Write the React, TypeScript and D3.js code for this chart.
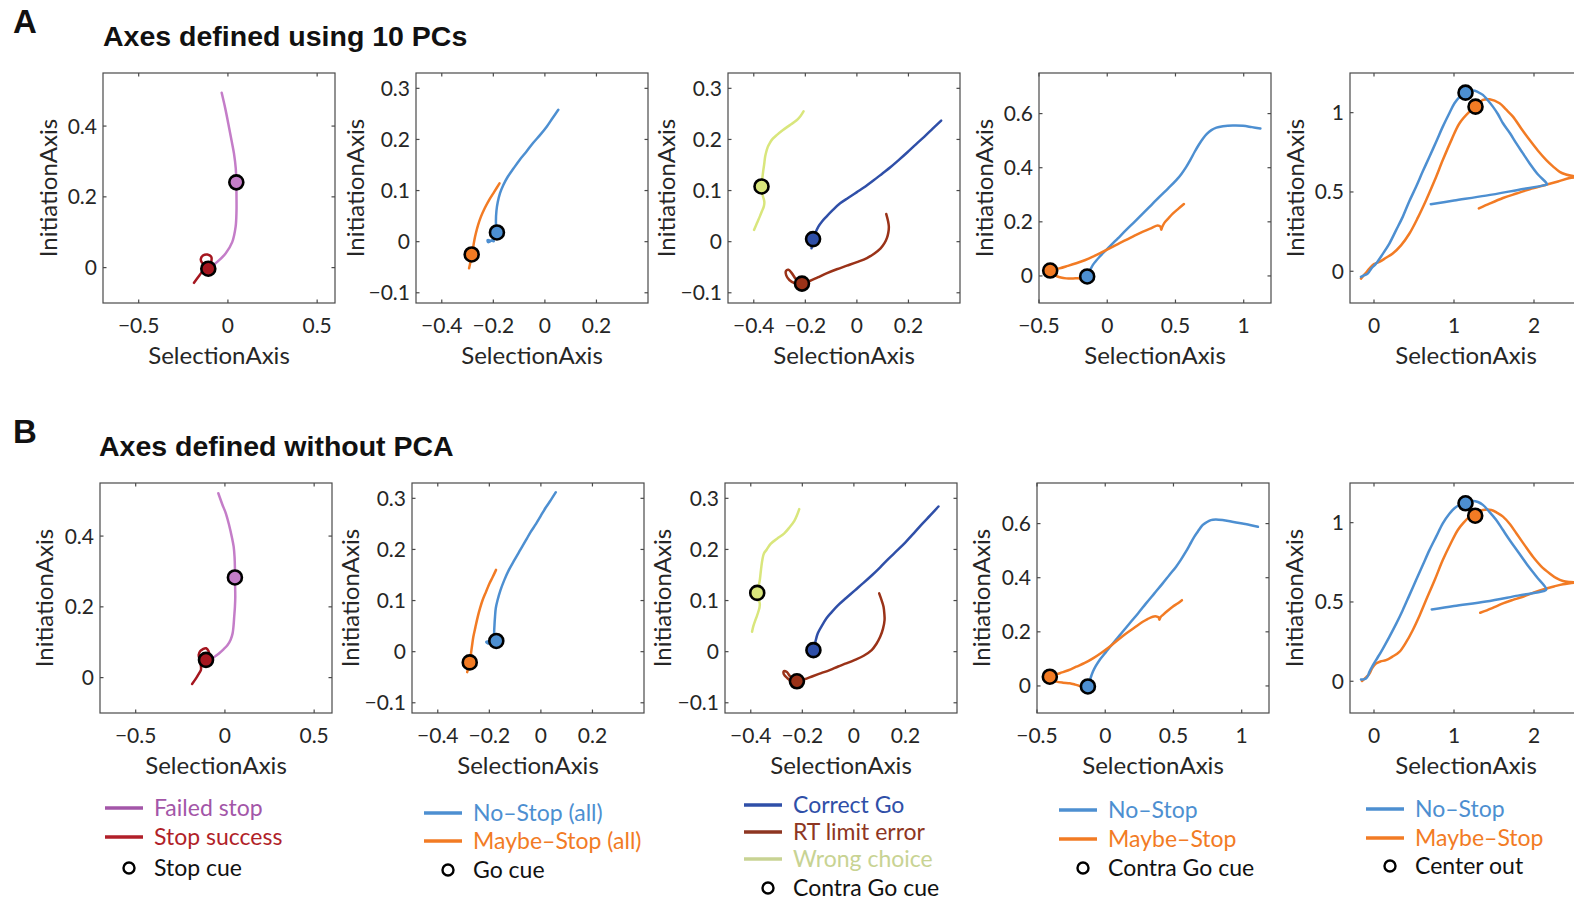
import React, { useEffect } from 'react';
import * as d3 from 'd3';

type P = [number, number];

// ---------- colours ----------
const cFailed = '#c47dc8';
const cFailedLeg = '#a356a8';
const cStopOk = '#a5161f';
const cStopOkLeg = '#b11f29';
const cNoStop = '#4d8fd1';
const cMaybe = '#f27b24';
const cCorrect = '#2f4fa8';
const cRT = '#9a3218';
const cRTLeg = '#8e3622';
const cWrong = '#d9e67c';
const cWrongLeg = '#c8d393';

// ---------- axes ----------
const xDomain1: P = [-0.7, 0.6];
const yDomain1: P = [-0.1, 0.55];
const xTicks1 = [-0.5, 0, 0.5];
const yTicks1 = [0, 0.2, 0.4];
const xDomain2: P = [-0.5, 0.4];
const yDomain2: P = [-0.12, 0.33];
const xTicks2 = [-0.4, -0.2, 0, 0.2];
const yTicks2 = [-0.1, 0, 0.1, 0.2, 0.3];
const xDomain4: P = [-0.5, 1.2];
const yDomain4: P = [-0.1, 0.75];
const xTicks4 = [-0.5, 0, 0.5, 1];
const yTicks4 = [0, 0.2, 0.4, 0.6];
const xDomain5: P = [-0.3, 2.6];
const yDomain5: P = [-0.2, 1.25];
const xTicks5 = [0, 1, 2];
const yTicks5 = [0, 0.5, 1];

// ---------- Row A: 10 PCs ----------
const a1FailedStop: P[] = [[-0.035,0.494],[-0.015,0.45],[0.006,0.397],[0.022,0.355],[0.034,0.322],[0.044,0.28],[0.047,0.241],[0.048,0.2],[0.048,0.16],[0.043,0.115],[0.024,0.072],[-0.013,0.04],[-0.06,0.016],[-0.097,0.0]];
const a1StopSuccess: P[] = [[-0.19,-0.043],[-0.16,-0.022],[-0.135,-0.005],[-0.12,0.005],[-0.145,0.014],[-0.152,0.024],[-0.14,0.034],[-0.115,0.037],[-0.093,0.03],[-0.095,0.012],[-0.105,0.0]];
const a1FailedCue: P = [0.047, 0.241];
const a1StopCue: P = [-0.11, -0.003];

const a2NoStop: P[] = [[0.052,0.258],[0.03,0.242],[0.007,0.225],[-0.02,0.208],[-0.046,0.193],[-0.072,0.176],[-0.098,0.16],[-0.122,0.143],[-0.144,0.127],[-0.162,0.11],[-0.174,0.095],[-0.183,0.077],[-0.188,0.06],[-0.19,0.04],[-0.189,0.026],[-0.19,0.012],[-0.205,0.003],[-0.22,-0.001],[-0.222,0.003],[-0.21,0.002],[-0.198,0.001]];
const a2MaybeStop: P[] = [[-0.176,0.114],[-0.196,0.098],[-0.216,0.082],[-0.233,0.066],[-0.248,0.049],[-0.259,0.033],[-0.268,0.016],[-0.274,0.002],[-0.278,-0.01],[-0.284,-0.025],[-0.289,-0.04],[-0.294,-0.052]];
const a2CueNoStop: P = [-0.186, 0.018];
const a2CueMaybe: P = [-0.284, -0.025];

const a3WrongChoice: P[] = [[-0.207,0.255],[-0.22,0.245],[-0.235,0.237],[-0.26,0.228],[-0.288,0.218],[-0.31,0.209],[-0.327,0.201],[-0.338,0.193],[-0.346,0.185],[-0.352,0.175],[-0.356,0.166],[-0.36,0.15],[-0.363,0.14],[-0.367,0.123],[-0.37,0.108],[-0.368,0.097],[-0.364,0.088],[-0.359,0.078],[-0.361,0.069],[-0.368,0.06],[-0.376,0.05],[-0.388,0.036],[-0.399,0.023]];
const a3CorrectGo: P[] = [[0.327,0.237],[0.294,0.221],[0.261,0.205],[0.228,0.19],[0.196,0.175],[0.163,0.16],[0.131,0.146],[0.098,0.133],[0.065,0.12],[0.033,0.108],[0,0.097],[-0.033,0.086],[-0.065,0.075],[-0.093,0.062],[-0.118,0.049],[-0.136,0.039],[-0.15,0.029],[-0.162,0.016],[-0.17,0.005],[-0.174,-0.005],[-0.176,-0.013]];
const a3RTError: P[] = [[0.114,0.054],[0.121,0.04],[0.124,0.029],[0.122,0.018],[0.117,0.008],[0.107,-0.003],[0.092,-0.013],[0.068,-0.023],[0.039,-0.032],[0,-0.04],[-0.039,-0.047],[-0.078,-0.054],[-0.118,-0.062],[-0.152,-0.07],[-0.183,-0.077],[-0.213,-0.082],[-0.242,-0.081],[-0.262,-0.075],[-0.274,-0.066],[-0.275,-0.057],[-0.265,-0.055],[-0.252,-0.062],[-0.237,-0.073],[-0.222,-0.08]];
const a3CueWrong: P = [-0.37, 0.108];
const a3CueCorrect: P = [-0.17, 0.005];
const a3CueRT: P = [-0.213, -0.082];

const a4NoStop: P[] = [[1.122,0.545],[1.06,0.55],[0.995,0.555],[0.92,0.556],[0.848,0.553],[0.8,0.548],[0.763,0.539],[0.73,0.525],[0.702,0.508],[0.67,0.484],[0.641,0.459],[0.61,0.43],[0.579,0.403],[0.545,0.378],[0.506,0.354],[0.445,0.323],[0.384,0.293],[0.323,0.262],[0.262,0.231],[0.2,0.2],[0.139,0.17],[0.078,0.139],[0.017,0.108],[-0.02,0.09],[-0.056,0.071],[-0.083,0.055],[-0.105,0.041],[-0.125,0.022],[-0.14,0.008],[-0.147,-0.002]];
const a4MaybeStop: P[] = [[0.562,0.266],[0.52,0.248],[0.482,0.231],[0.45,0.214],[0.42,0.197],[0.402,0.18],[0.396,0.171],[0.39,0.182],[0.37,0.186],[0.32,0.176],[0.262,0.164],[0.2,0.149],[0.139,0.133],[0.078,0.118],[0.017,0.102],[-0.045,0.086],[-0.105,0.071],[-0.165,0.058],[-0.227,0.047],[-0.29,0.037],[-0.35,0.028],[-0.418,0.02],[-0.4,0.006],[-0.374,0.0],[-0.34,-0.006],[-0.301,-0.009],[-0.25,-0.009],[-0.203,-0.009],[-0.19,-0.015]];
const a4CueNoStop: P = [-0.147, -0.002];
const a4CueMaybe: P = [-0.418, 0.02];

const a5NoStop: P[] = [[-0.163,-0.036],[-0.12,-0.025],[-0.079,-0.015],[-0.03,0.02],[0.025,0.048],[0.11,0.11],[0.192,0.175],[0.275,0.258],[0.359,0.343],[0.44,0.44],[0.526,0.533],[0.61,0.63],[0.693,0.722],[0.78,0.82],[0.86,0.912],[0.94,0.995],[1.006,1.059],[1.07,1.1],[1.144,1.126],[1.236,1.139],[1.3,1.13],[1.361,1.112],[1.42,1.08],[1.486,1.038],[1.55,0.99],[1.612,0.933],[1.7,0.87],[1.779,0.806],[1.86,0.745],[1.946,0.68],[2.05,0.61],[2.163,0.549],[2.13,0.543],[1.8,0.513],[1.4,0.477],[1.0,0.446],[0.71,0.423]];
const a5MaybeStop: P[] = [[-0.163,-0.046],[-0.11,-0.015],[-0.058,0.017],[0.0,0.045],[0.067,0.059],[0.15,0.085],[0.234,0.112],[0.34,0.165],[0.443,0.238],[0.55,0.34],[0.651,0.448],[0.76,0.575],[0.86,0.701],[0.97,0.83],[1.069,0.933],[1.194,1.006],[1.269,1.038],[1.361,1.08],[1.445,1.084],[1.57,1.059],[1.65,1.02],[1.737,0.975],[1.84,0.9],[1.946,0.827],[2.05,0.76],[2.154,0.701],[2.24,0.66],[2.321,0.627],[2.4,0.61],[2.488,0.6],[2.58,0.596],[2.447,0.588],[2.3,0.566],[2.15,0.545],[1.946,0.517],[1.78,0.49],[1.612,0.462],[1.45,0.428],[1.311,0.396]];
const a5CueNoStop: P = [1.144, 1.126];
const a5CueMaybe: P = [1.269, 1.038];

// ---------- Row B: without PCA ----------
const b1FailedStop: P[] = [[-0.037,0.521],[-0.015,0.49],[0.006,0.463],[0.024,0.43],[0.039,0.397],[0.049,0.37],[0.054,0.341],[0.056,0.31],[0.056,0.283],[0.058,0.228],[0.056,0.2],[0.052,0.172],[0.048,0.145],[0.043,0.125],[0.032,0.107],[0.015,0.092],[-0.008,0.08],[-0.032,0.069],[-0.055,0.06],[-0.078,0.05],[-0.095,0.042]];
const b1StopSuccess: P[] = [[-0.184,-0.018],[-0.162,-0.002],[-0.145,0.012],[-0.134,0.022],[-0.135,0.035],[-0.14,0.048],[-0.147,0.064],[-0.138,0.075],[-0.125,0.08],[-0.105,0.083],[-0.092,0.075],[-0.088,0.064],[-0.095,0.055],[-0.104,0.05]];
const b1FailedCue: P = [0.056, 0.283];
const b1StopCue: P = [-0.106, 0.05];

const b2NoStop: P[] = [[0.058,0.312],[0.039,0.297],[0.019,0.282],[0,0.266],[-0.019,0.25],[-0.04,0.234],[-0.058,0.218],[-0.08,0.199],[-0.103,0.179],[-0.124,0.16],[-0.142,0.14],[-0.157,0.12],[-0.168,0.101],[-0.175,0.085],[-0.178,0.068],[-0.18,0.052],[-0.181,0.036],[-0.177,0.026],[-0.173,0.021],[-0.19,0.021],[-0.205,0.02],[-0.212,0.019],[-0.205,0.016],[-0.195,0.017]];
const b2MaybeStop: P[] = [[-0.174,0.16],[-0.187,0.146],[-0.2,0.133],[-0.213,0.117],[-0.226,0.101],[-0.236,0.085],[-0.245,0.068],[-0.254,0.048],[-0.262,0.029],[-0.267,0.012],[-0.271,-0.003],[-0.276,-0.021],[-0.281,-0.031],[-0.286,-0.04]];
const b2CueNoStop: P = [-0.173, 0.021];
const b2CueMaybe: P = [-0.276, -0.021];

const b3WrongChoice: P[] = [[-0.212,0.279],[-0.22,0.268],[-0.231,0.256],[-0.25,0.243],[-0.271,0.231],[-0.298,0.221],[-0.323,0.211],[-0.338,0.2],[-0.349,0.192],[-0.355,0.18],[-0.359,0.166],[-0.362,0.153],[-0.365,0.14],[-0.37,0.127],[-0.375,0.115],[-0.37,0.103],[-0.365,0.094],[-0.366,0.087],[-0.369,0.081],[-0.376,0.07],[-0.382,0.062],[-0.39,0.05],[-0.395,0.039]];
const b3CorrectGo: P[] = [[0.328,0.284],[0.297,0.267],[0.265,0.25],[0.233,0.232],[0.2,0.214],[0.168,0.198],[0.135,0.182],[0.102,0.165],[0.069,0.149],[0.036,0.134],[0.004,0.12],[-0.03,0.105],[-0.061,0.091],[-0.087,0.077],[-0.107,0.065],[-0.125,0.05],[-0.14,0.036],[-0.15,0.018],[-0.157,0.003]];
const b3RTError: P[] = [[0.098,0.114],[0.108,0.1],[0.115,0.088],[0.118,0.075],[0.119,0.062],[0.113,0.045],[0.102,0.029],[0.087,0.015],[0.069,0.003],[0.038,-0.008],[0.004,-0.016],[-0.03,-0.023],[-0.061,-0.029],[-0.094,-0.036],[-0.127,-0.042],[-0.16,-0.048],[-0.192,-0.054],[-0.221,-0.058],[-0.24,-0.058],[-0.258,-0.052],[-0.272,-0.044],[-0.271,-0.038],[-0.26,-0.04],[-0.248,-0.048],[-0.232,-0.055]];
const b3CueWrong: P = [-0.375, 0.115];
const b3CueCorrect: P = [-0.157, 0.003];
const b3CueRT: P = [-0.221, -0.058];

const b4NoStop: P[] = [[1.119,0.588],[1.06,0.595],[1.005,0.6],[0.93,0.607],[0.859,0.613],[0.81,0.615],[0.774,0.613],[0.74,0.604],[0.713,0.594],[0.68,0.572],[0.652,0.551],[0.62,0.522],[0.591,0.496],[0.555,0.467],[0.518,0.44],[0.47,0.41],[0.421,0.379],[0.36,0.342],[0.299,0.305],[0.24,0.268],[0.178,0.231],[0.117,0.194],[0.056,0.157],[0.005,0.125],[-0.041,0.096],[-0.07,0.073],[-0.09,0.053],[-0.11,0.025],[-0.127,-0.002]];
const b4MaybeStop: P[] = [[0.562,0.317],[0.53,0.305],[0.494,0.293],[0.455,0.277],[0.421,0.262],[0.405,0.254],[0.397,0.245],[0.39,0.254],[0.375,0.257],[0.348,0.256],[0.31,0.247],[0.275,0.237],[0.215,0.216],[0.153,0.194],[0.092,0.17],[0.032,0.145],[-0.03,0.122],[-0.09,0.102],[-0.15,0.085],[-0.212,0.071],[-0.27,0.058],[-0.333,0.047],[-0.406,0.034],[-0.385,0.022],[-0.358,0.016],[-0.31,0.012],[-0.26,0.01],[-0.22,0.005],[-0.187,0]];
const b4CueNoStop: P = [-0.127, -0.002];
const b4CueMaybe: P = [-0.406, 0.034];

const b5NoStop: P[] = [[-0.163,0.011],[-0.13,0.012],[-0.1,0.017],[-0.075,0.035],[-0.058,0.059],[-0.02,0.095],[0.025,0.133],[0.11,0.205],[0.192,0.28],[0.275,0.36],[0.359,0.448],[0.44,0.54],[0.526,0.638],[0.61,0.733],[0.693,0.827],[0.78,0.915],[0.86,0.996],[0.94,1.055],[1.006,1.091],[1.07,1.11],[1.144,1.122],[1.236,1.137],[1.3,1.13],[1.361,1.112],[1.44,1.07],[1.528,1.017],[1.61,0.955],[1.695,0.891],[1.8,0.817],[1.904,0.743],[2.03,0.66],[2.154,0.579],[2.12,0.569],[1.8,0.54],[1.4,0.503],[1.0,0.475],[0.722,0.453]];
const b5MaybeStop: P[] = [[-0.15,0.002],[-0.1,0.025],[-0.058,0.048],[-0.02,0.085],[0.025,0.112],[0.08,0.125],[0.15,0.133],[0.23,0.155],[0.317,0.185],[0.4,0.245],[0.484,0.322],[0.57,0.415],[0.651,0.512],[0.76,0.64],[0.86,0.764],[0.96,0.87],[1.048,0.954],[1.12,1.0],[1.194,1.038],[1.265,1.06],[1.361,1.08],[1.466,1.08],[1.54,1.062],[1.612,1.038],[1.7,0.99],[1.779,0.933],[1.88,0.86],[1.987,0.785],[2.09,0.725],[2.196,0.68],[2.28,0.65],[2.363,0.632],[2.45,0.626],[2.56,0.624],[2.45,0.618],[2.363,0.612],[2.25,0.598],[2.154,0.585],[2.0,0.56],[1.862,0.533],[1.73,0.512],[1.612,0.491],[1.47,0.46],[1.328,0.432]];
const b5CueNoStop: P = [1.144, 1.122];
const b5CueMaybe: P = [1.265, 1.044];

// ---------- legend texts ----------
const legend1 = ['Failed stop', 'Stop success', 'Stop cue'];
const legend2 = ['No\u2013Stop (all)', 'Maybe\u2013Stop (all)', 'Go cue'];
const legend3 = ['Correct Go', 'RT  limit error', 'Wrong choice', 'Contra Go cue'];
const legend4 = ['No\u2013Stop', 'Maybe\u2013Stop', 'Contra Go cue'];
const legend5 = ['No\u2013Stop', 'Maybe\u2013Stop', 'Center out'];

const titleA = 'Axes defined using 10 PCs';
const titleB = 'Axes defined without PCA';
const xLabel = 'SelectionAxis';
const yLabel = 'InitiationAxis';

// ---------- layout ----------
const W = 1574, H = 902;
const PW = 232, PH = 230;
const rowTops = [73, 483];
const rowLefts = [[103, 416, 728, 1039, 1350], [100, 412, 725, 1037, 1350]];
const yLabelOffsets = [[55, 61, 62, 55, 55], [56, 62, 63, 56, 56]];
const FONT = "Lato, 'Open Sans', sans-serif";
const BOLD = "'Liberation Sans', Arial, sans-serif";
const TXT = '#262626';

type Series = { pts: P[]; color: string };
type Cue = { pt: P; fill: string };
type PanelDef = { xd: P; yd: P; xt: number[]; yt: number[]; series: Series[]; cues: Cue[] };

const panelsA: PanelDef[] = [
  { xd: xDomain1, yd: yDomain1, xt: xTicks1, yt: yTicks1,
    series: [{ pts: a1FailedStop, color: cFailed }, { pts: a1StopSuccess, color: cStopOk }],
    cues: [{ pt: a1FailedCue, fill: cFailed }, { pt: a1StopCue, fill: cStopOk }] },
  { xd: xDomain2, yd: yDomain2, xt: xTicks2, yt: yTicks2,
    series: [{ pts: a2NoStop, color: cNoStop }, { pts: a2MaybeStop, color: cMaybe }],
    cues: [{ pt: a2CueNoStop, fill: cNoStop }, { pt: a2CueMaybe, fill: cMaybe }] },
  { xd: xDomain2, yd: yDomain2, xt: xTicks2, yt: yTicks2,
    series: [{ pts: a3WrongChoice, color: cWrong }, { pts: a3CorrectGo, color: cCorrect }, { pts: a3RTError, color: cRT }],
    cues: [{ pt: a3CueWrong, fill: cWrong }, { pt: a3CueCorrect, fill: cCorrect }, { pt: a3CueRT, fill: cRT }] },
  { xd: xDomain4, yd: yDomain4, xt: xTicks4, yt: yTicks4,
    series: [{ pts: a4NoStop, color: cNoStop }, { pts: a4MaybeStop, color: cMaybe }],
    cues: [{ pt: a4CueMaybe, fill: cMaybe }, { pt: a4CueNoStop, fill: cNoStop }] },
  { xd: xDomain5, yd: yDomain5, xt: xTicks5, yt: yTicks5,
    series: [{ pts: a5MaybeStop, color: cMaybe }, { pts: a5NoStop, color: cNoStop }],
    cues: [{ pt: a5CueNoStop, fill: cNoStop }, { pt: a5CueMaybe, fill: cMaybe }] },
];

const panelsB: PanelDef[] = [
  { xd: xDomain1, yd: yDomain1, xt: xTicks1, yt: yTicks1,
    series: [{ pts: b1FailedStop, color: cFailed }, { pts: b1StopSuccess, color: cStopOk }],
    cues: [{ pt: b1FailedCue, fill: cFailed }, { pt: b1StopCue, fill: cStopOk }] },
  { xd: xDomain2, yd: yDomain2, xt: xTicks2, yt: yTicks2,
    series: [{ pts: b2NoStop, color: cNoStop }, { pts: b2MaybeStop, color: cMaybe }],
    cues: [{ pt: b2CueNoStop, fill: cNoStop }, { pt: b2CueMaybe, fill: cMaybe }] },
  { xd: xDomain2, yd: yDomain2, xt: xTicks2, yt: yTicks2,
    series: [{ pts: b3WrongChoice, color: cWrong }, { pts: b3CorrectGo, color: cCorrect }, { pts: b3RTError, color: cRT }],
    cues: [{ pt: b3CueWrong, fill: cWrong }, { pt: b3CueCorrect, fill: cCorrect }, { pt: b3CueRT, fill: cRT }] },
  { xd: xDomain4, yd: yDomain4, xt: xTicks4, yt: yTicks4,
    series: [{ pts: b4NoStop, color: cNoStop }, { pts: b4MaybeStop, color: cMaybe }],
    cues: [{ pt: b4CueMaybe, fill: cMaybe }, { pt: b4CueNoStop, fill: cNoStop }] },
  { xd: xDomain5, yd: yDomain5, xt: xTicks5, yt: yTicks5,
    series: [{ pts: b5MaybeStop, color: cMaybe }, { pts: b5NoStop, color: cNoStop }],
    cues: [{ pt: b5CueNoStop, fill: cNoStop }, { pt: b5CueMaybe, fill: cMaybe }] },
];

const fmt = (v: number) => (v < 0 ? '\u2212' + String(-v) : String(v));

function Panel({ def, left, top, yOff, id }: { def: PanelDef; left: number; top: number; yOff: number; id: string }) {
  const x = d3.scaleLinear().domain(def.xd).range([left, left + PW]);
  const y = d3.scaleLinear().domain(def.yd).range([top + PH, top]);
  const line = d3.line<P>().x(d => x(d[0])).y(d => y(d[1])).curve(d3.curveCatmullRom.alpha(0.5));
  const bottom = top + PH, right = left + PW;
  const tl = 3.5;
  const axisColor = '#4a4a4a';
  return (
    <g>
      <defs>
        <clipPath id={id}><rect x={left} y={top} width={PW} height={PH} /></clipPath>
      </defs>
      <g clipPath={`url(#${id})`}>
        {def.series.map((s, i) => (
          <path key={i} d={line(s.pts) || ''} fill="none" stroke={s.color} strokeWidth={2.5} strokeLinejoin="round" strokeLinecap="round" />
        ))}
      </g>
      {def.cues.map((c, i) => (
        <circle key={i} cx={x(c.pt[0])} cy={y(c.pt[1])} r={7} fill={c.fill} stroke="#000" strokeWidth={2.6} />
      ))}
      <rect x={left} y={top} width={PW} height={PH} fill="none" stroke={axisColor} strokeWidth={1.2} />
      {def.xt.map(v => (
        <g key={'x' + v}>
          <line x1={x(v)} x2={x(v)} y1={bottom} y2={bottom - tl} stroke={axisColor} strokeWidth={1.2} />
          <line x1={x(v)} x2={x(v)} y1={top} y2={top + tl} stroke={axisColor} strokeWidth={1.2} />
          <text x={x(v)} y={bottom + 29.5} textAnchor="middle" fontSize={21} fill={TXT} fontFamily={FONT}>{fmt(v)}</text>
        </g>
      ))}
      {def.yt.map(v => (
        <g key={'y' + v}>
          <line x1={left} x2={left + tl} y1={y(v)} y2={y(v)} stroke={axisColor} strokeWidth={1.2} />
          <line x1={right} x2={right - tl} y1={y(v)} y2={y(v)} stroke={axisColor} strokeWidth={1.2} />
          <text x={left - 6} y={y(v) + 7.5} textAnchor="end" fontSize={21} fill={TXT} fontFamily={FONT}>{fmt(v)}</text>
        </g>
      ))}
      <text x={left + PW / 2} y={bottom + 61} textAnchor="middle" fontSize={24} fill={TXT} fontFamily={FONT}>{xLabel}</text>
      <text transform={`translate(${left - yOff + 8.5},${top + PH / 2}) rotate(-90)`} textAnchor="middle" fontSize={24} fill={TXT} fontFamily={FONT}>{yLabel}</text>
    </g>
  );
}

type LegItem = { label: string; color: string; textColor: string; cue?: boolean };

function Legend({ items, lineX, rows }: { items: LegItem[]; lineX: number; rows: number[] }) {
  return (
    <g>
      {items.map((it, i) => (
        <g key={i}>
          {it.cue ? (
            <circle cx={lineX + 24} cy={rows[i]} r={5.5} fill="none" stroke="#000" strokeWidth={2.4} />
          ) : (
            <line x1={lineX} x2={lineX + 38} y1={rows[i]} y2={rows[i]} stroke={it.color} strokeWidth={3.5} />
          )}
          <text x={lineX + 49} y={rows[i] + 8} fontSize={23} fill={it.textColor} fontFamily={FONT}>{it.label}</text>
        </g>
      ))}
    </g>
  );
}

export default function App() {
  useEffect(() => {
    document.body.style.margin = '0';
  }, []);
  const legendItems1: LegItem[] = [
    { label: legend1[0], color: cFailedLeg, textColor: cFailedLeg },
    { label: legend1[1], color: cStopOkLeg, textColor: cStopOkLeg },
    { label: legend1[2], color: '#000', textColor: '#111', cue: true },
  ];
  const legendItems2: LegItem[] = [
    { label: legend2[0], color: cNoStop, textColor: cNoStop },
    { label: legend2[1], color: cMaybe, textColor: cMaybe },
    { label: legend2[2], color: '#000', textColor: '#111', cue: true },
  ];
  const legendItems3: LegItem[] = [
    { label: legend3[0], color: cCorrect, textColor: cCorrect },
    { label: legend3[1], color: cRTLeg, textColor: cRTLeg },
    { label: legend3[2], color: cWrongLeg, textColor: cWrongLeg },
    { label: legend3[3], color: '#000', textColor: '#111', cue: true },
  ];
  const legendItems4: LegItem[] = [
    { label: legend4[0], color: cNoStop, textColor: cNoStop },
    { label: legend4[1], color: cMaybe, textColor: cMaybe },
    { label: legend4[2], color: '#000', textColor: '#111', cue: true },
  ];
  const legendItems5: LegItem[] = [
    { label: legend5[0], color: cNoStop, textColor: cNoStop },
    { label: legend5[1], color: cMaybe, textColor: cMaybe },
    { label: legend5[2], color: '#000', textColor: '#111', cue: true },
  ];
  return (
    <div style={{ position: 'absolute', left: 0, top: 0, width: W, height: H, overflow: 'hidden', background: '#fff' }}>
      <svg width={W} height={H} style={{ display: 'block' }}>
        <rect x={0} y={0} width={W} height={H} fill="#fff" />
        <text x={13} y={33} fontSize={33} fontWeight="bold" fill="#111" fontFamily={BOLD}>A</text>
        <text x={103} y={46} fontSize={28.5} fontWeight="bold" fill="#111" fontFamily={BOLD}>{titleA}</text>
        <text x={13} y={443} fontSize={33} fontWeight="bold" fill="#111" fontFamily={BOLD}>B</text>
        <text x={99} y={456} fontSize={28.5} fontWeight="bold" fill="#111" fontFamily={BOLD}>{titleB}</text>
        {panelsA.map((p, i) => (
          <Panel key={'a' + i} id={'clipA' + i} def={p} left={rowLefts[0][i]} top={rowTops[0]} yOff={yLabelOffsets[0][i]} />
        ))}
        {panelsB.map((p, i) => (
          <Panel key={'b' + i} id={'clipB' + i} def={p} left={rowLefts[1][i]} top={rowTops[1]} yOff={yLabelOffsets[1][i]} />
        ))}
        <Legend items={legendItems1} lineX={105} rows={[808, 837, 868]} />
        <Legend items={legendItems2} lineX={424} rows={[813, 841, 870]} />
        <Legend items={legendItems3} lineX={744} rows={[805, 832, 859, 888]} />
        <Legend items={legendItems4} lineX={1059} rows={[810, 839, 868]} />
        <Legend items={legendItems5} lineX={1366} rows={[809, 838, 866]} />
      </svg>
    </div>
  );
}
